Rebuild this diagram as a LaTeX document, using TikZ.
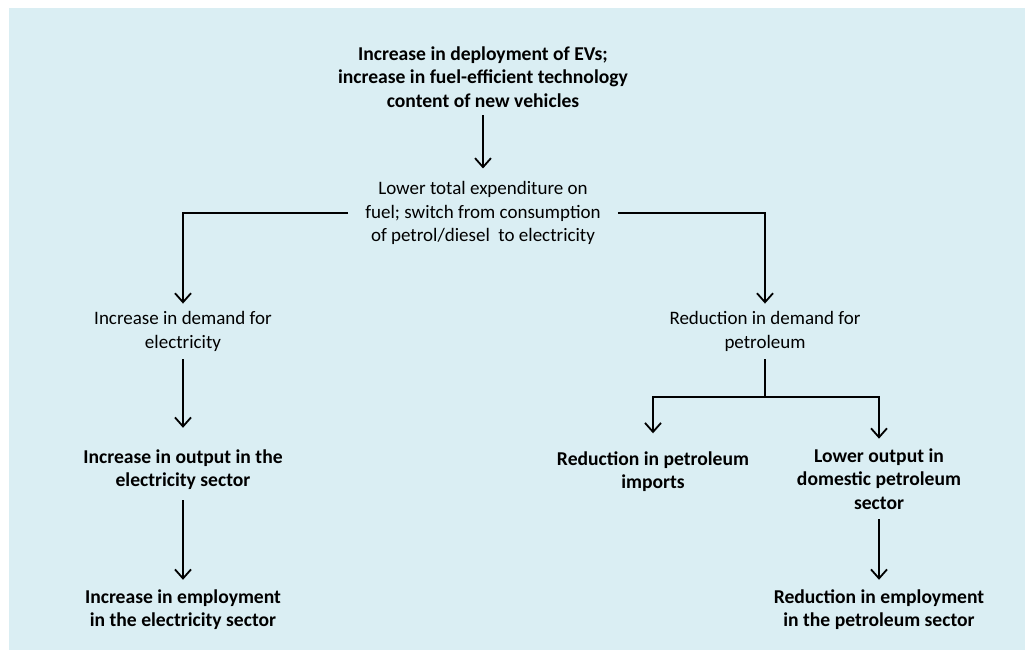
\documentclass[tikz,border=0pt]{standalone}
\usepackage{fontspec}
\setmainfont{Carlito}
\usetikzlibrary{arrows.meta}
\definecolor{bg}{HTML}{DAEEF3}
\begin{document}
\begin{tikzpicture}[x=1pt,y=-1pt,
 txt/.style={align=center, inner sep=0pt, font=\fontsize{19}{23.2}\selectfont},
 btxt/.style={align=center, inner sep=0pt, font=\fontsize{19.6}{23.2}\selectfont\bfseries},
 arr/.style={line width=1.8pt, -{Straight Barb[length=9pt,width=16pt,line width=1.8pt]}},
 ln/.style={line width=1.8pt}]
\useasboundingbox (0,0) rectangle (1025,650);
\fill[bg] (9,8) rectangle (1025,650);
\node[btxt] (top) at (483,77) {Increase in deployment of EVs;\\increase in fuel-efficient technology\\content of new vehicles};
\node[txt] (mid) at (483,213) {Lower total expenditure on\\fuel; switch from consumption\\of petrol/diesel\ \ to electricity};
\node[txt] (dem) at (183,331.5) {Increase in demand for\\electricity};
\node[txt] (red) at (765,331.5) {Reduction in demand for\\petroleum};
\node[btxt] (outE) at (183,470) {Increase in output in the\\electricity sector};
\node[btxt] (empE) at (183,610) {Increase in employment\\in the electricity sector};
\node[btxt] (imp) at (653,471.5) {Reduction in petroleum\\imports};
\node[btxt] (dom) at (879,479) {Lower output in\\domestic petroleum\\sector};
\node[btxt] (empP) at (879,610) {Reduction in employment\\in the petroleum sector};
\coordinate (j) at (765,397);
\draw[arr, shorten <=8pt, shorten >=13pt] (top) -- (mid);
\draw[arr, shorten <=17pt, shorten >=8pt] (mid.west) -| (dem);
\draw[arr, shorten <=17pt, shorten >=8pt] (mid.east) -| (red);
\draw[arr, shorten <=8pt, shorten >=22pt] (dem) -- (outE);
\draw[arr, shorten <=10pt, shorten >=10pt] (outE) -- (empE);
\draw[ln, shorten <=8pt] (red) -- (j);
\draw[arr, shorten >=18pt] (j) -| (imp);
\draw[arr, shorten >=10pt] (j) -| (dom);
\draw[arr, shorten <=10pt, shorten >=10pt] (dom) -- (empP);
\end{tikzpicture}
\end{document}
